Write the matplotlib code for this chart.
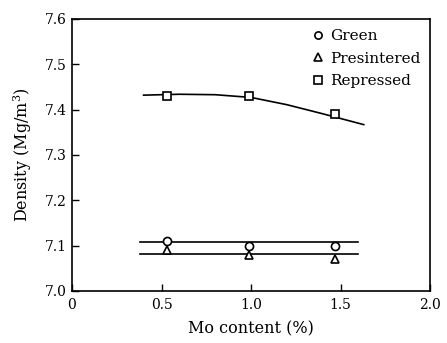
import matplotlib.pyplot as plt

# Data
mo_content = [0.53, 0.99, 1.47]
green = [7.11, 7.10, 7.10]
presintered = [7.09, 7.08, 7.07]
repressed = [7.43, 7.43, 7.39]

# fitted lines
green_fit_x = [0.38, 1.60]
green_fit_y = [7.107, 7.107]
pres_fit_x = [0.38, 1.60]
pres_fit_y = [7.082, 7.082]
rep_fit_x = [0.40, 0.60, 0.80, 1.00, 1.20, 1.40, 1.63]
rep_fit_y = [7.432, 7.434, 7.433, 7.427, 7.411, 7.391, 7.367]

plt.rcParams['font.family'] = ['DejaVu Serif']
plt.rcParams['mathtext.fontset'] = 'dejavuserif'

fig = plt.figure(figsize=(4.47, 3.43), dpi=100)
ax = fig.add_axes([72 / 447, 1 - 291 / 343, 358 / 447, 272 / 343])

ax.plot(green_fit_x, green_fit_y, color='black', lw=1.2)
ax.plot(pres_fit_x, pres_fit_y, color='black', lw=1.2)
ax.plot(rep_fit_x, rep_fit_y, color='black', lw=1.2)

ax.plot(mo_content, green, 'o', ms=5.8, mfc='white', mec='black', mew=1.2, label='Green')
ax.plot(mo_content, presintered, '^', ms=5.8, mfc='white', mec='black', mew=1.2, label='Presintered')
ax.plot(mo_content, repressed, 's', ms=5.8, mfc='white', mec='black', mew=1.2, label='Repressed')

ax.set_xlim(0, 2.0)
ax.set_ylim(7.0, 7.6)
ax.set_xticks([0, 0.5, 1.0, 1.5, 2.0])
ax.set_xticklabels(['0', '0.5', '1.0', '1.5', '2.0'])
ax.set_yticks([7.0, 7.1, 7.2, 7.3, 7.4, 7.5, 7.6])
ax.set_yticklabels(['7.0', '7.1', '7.2', '7.3', '7.4', '7.5', '7.6'])
ax.tick_params(direction='in', length=5, width=1, labelsize=10)
ax.tick_params(axis='x', pad=5)
for s in ax.spines.values():
    s.set_linewidth(1.2)

ax.set_xlabel('Mo content (%)', fontsize=11.5, labelpad=6)
ax.set_ylabel('Density (Mg/m$^3$)', fontsize=11.5, labelpad=8)

ax.legend(loc='upper right', frameon=False, fontsize=11, handletextpad=0.3,
          handlelength=1.0, labelspacing=0.55, borderaxespad=0.1,
          markerscale=0.9, bbox_to_anchor=(0.995, 0.99))

plt.savefig('out.png', dpi=100)
